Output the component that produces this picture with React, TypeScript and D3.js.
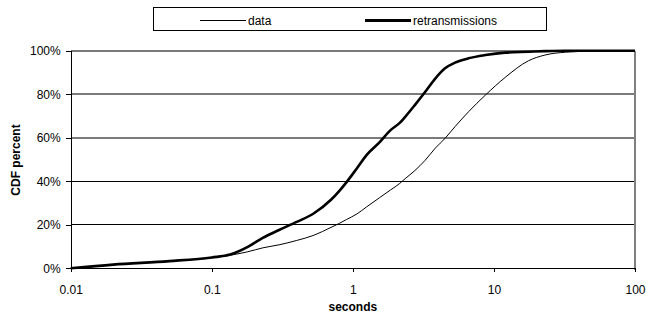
import { useEffect, useRef } from 'react';
import * as d3 from 'd3';

// seconds (log axis)
const seconds = [0.01, 0.02, 0.05, 0.1, 0.135, 0.18, 0.23, 0.3, 0.4, 0.53, 0.7, 0.8, 0.9, 1.07, 1.25, 1.55, 1.85, 2.15, 2.35, 2.75, 3.25, 3.85, 4.5, 5.3, 6.6, 8.7, 12, 17.6, 23, 32, 50, 100];
// CDF percent per series
const dataPct = [0, 1.6, 3.4, 4.8, 6.0, 7.6, 9.4, 10.8, 12.8, 15.2, 18.8, 20.6, 22.4, 25.0, 28.2, 32.5, 36.0, 39.0, 41.2, 44.9, 49.6, 55.3, 59.7, 65.1, 71.9, 79.6, 87.7, 95.4, 98, 99.3, 99.8, 100];
const retxPct = [0, 1.7, 3.3, 5.0, 6.3, 9.8, 14.0, 17.6, 21.3, 25.3, 31.5, 35.5, 39.5, 46, 52, 58, 63.5, 66.8, 69.6, 75, 81, 87.3, 91.9, 94.5, 96.5, 98, 99.1, 99.5, 99.8, 100, 100, 100];

const xTicks = [0.01, 0.1, 1, 10, 100];
const yTicks = [0, 20, 40, 60, 80, 100];
const seriesNames = ['data', 'retransmissions'];

const W = 646;
const H = 316;
const FONT = '"Liberation Sans", Arial, sans-serif';

export default function App() {
  const svgRef = useRef<SVGSVGElement>(null);

  useEffect(() => {
    const svg = d3.select(svgRef.current);
    svg.selectAll('*').remove();

    const left = 70.7, right = 635, top = 50.7, bottom = 268.3;

    const x = d3.scaleLog().domain([0.01, 100]).range([left, right]);
    const y = d3.scaleLinear().domain([0, 100]).range([bottom, top]);

    // grid lines
    svg.append('g')
      .selectAll('line')
      .data(yTicks.filter(v => v > 0))
      .enter()
      .append('line')
      .attr('x1', left)
      .attr('x2', right)
      .attr('y1', d => y(d))
      .attr('y2', d => y(d))
      .attr('stroke', d => (d >= 60 ? '#7a7a7a' : '#000'))
      .attr('stroke-width', d => (d >= 60 ? 2 : 1))
      .attr('shape-rendering', 'crispEdges');

    // right border of plot area
    svg.append('line')
      .attr('x1', right).attr('x2', right)
      .attr('y1', top).attr('y2', bottom + 2)
      .attr('stroke', '#808080')
      .attr('stroke-width', 1.5)
      .attr('shape-rendering', 'crispEdges');

    // axes
    const xAxis = svg.append('g')
      .attr('transform', `translate(0,${bottom})`)
      .call(d3.axisBottom(x).tickValues(xTicks).tickFormat(d => String(d)).tickSizeOuter(0).tickSize(4).tickPadding(13));
    const yAxis = svg.append('g')
      .attr('transform', `translate(${left},0)`)
      .call(d3.axisLeft(y).tickValues(yTicks).tickFormat(d => `${d}%`).tickSizeOuter(0).tickSize(5).tickPadding(5));

    [xAxis, yAxis].forEach(g => {
      g.select('.domain').attr('stroke', '#000').attr('shape-rendering', 'crispEdges');
      g.selectAll('.tick line').attr('stroke', '#000').attr('shape-rendering', 'crispEdges');
      g.selectAll('.tick text')
        .attr('font-family', FONT)
        .attr('font-size', 12)
        .attr('fill', '#000');
    });

    // curves
    const line = d3.line<number>()
      .x((_, i) => x(seconds[i]))
      .y(d => y(d))
      .curve(d3.curveMonotoneX);

    svg.append('path')
      .attr('d', line(dataPct))
      .attr('fill', 'none')
      .attr('stroke', '#000')
      .attr('stroke-width', 1);

    svg.append('path')
      .attr('d', line(retxPct))
      .attr('fill', 'none')
      .attr('stroke', '#000')
      .attr('stroke-width', 2.6);

    // axis titles
    svg.append('text')
      .attr('x', (left + right) / 2)
      .attr('y', 311)
      .attr('text-anchor', 'middle')
      .attr('font-family', FONT)
      .attr('font-size', 12)
      .attr('font-weight', 'bold')
      .text('seconds');

    svg.append('text')
      .attr('transform', `translate(19.5,160) rotate(-90)`)
      .attr('text-anchor', 'middle')
      .attr('font-family', FONT)
      .attr('font-size', 12)
      .attr('font-weight', 'bold')
      .text('CDF percent');

    // legend
    const lg = svg.append('g');
    lg.append('rect')
      .attr('x', 153.5).attr('y', 7.5)
      .attr('width', 393).attr('height', 22.5)
      .attr('fill', '#fff')
      .attr('stroke', '#000')
      .attr('stroke-width', 1)
      .attr('shape-rendering', 'crispEdges');

    const items = lg.selectAll('.item')
      .data(seriesNames)
      .enter()
      .append('g')
      .attr('transform', (_, i) => `translate(${i === 0 ? 200 : 365},0)`);

    items.append('line')
      .attr('x1', 0).attr('x2', 46)
      .attr('y1', 20.5).attr('y2', 20.5)
      .attr('stroke', '#000')
      .attr('stroke-width', (_, i) => (i === 0 ? 1 : 3));

    items.append('text')
      .attr('x', 48)
      .attr('y', 25)
      .attr('font-family', FONT)
      .attr('font-size', 12)
      .text(d => d);
  }, []);

  return (
    <svg
      ref={svgRef}
      width={W}
      height={H}
      style={{ position: 'absolute', left: 0, top: 0, background: '#fff' }}
    />
  );
}
